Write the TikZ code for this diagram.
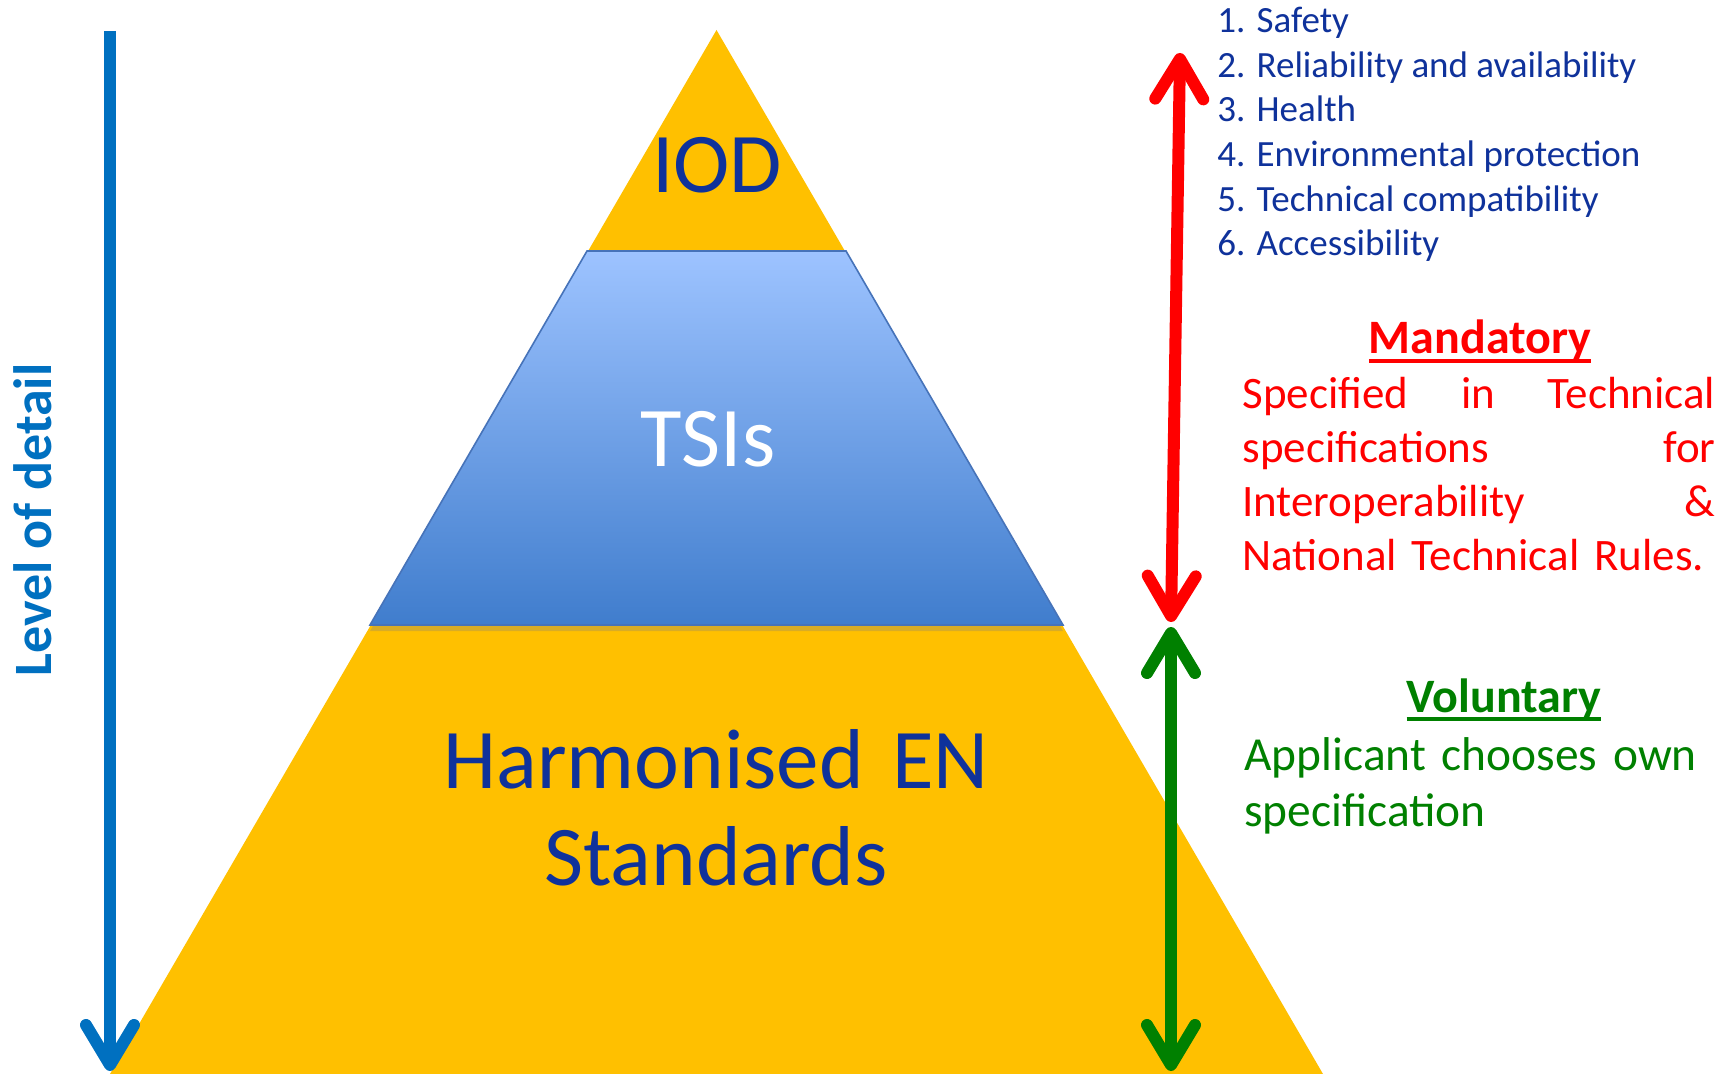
\documentclass[tikz,border=0pt]{standalone}
\usepackage{fontspec}
\setmainfont{Carlito}
\usetikzlibrary{arrows.meta,shadows}
\definecolor{gold}{HTML}{FFC000}
\definecolor{navy}{RGB}{15,50,155}
\definecolor{lodblue}{HTML}{0070C0}
\definecolor{tsitop}{RGB}{157,195,255}
\definecolor{tsibot}{RGB}{64,125,205}
\definecolor{tsiline}{RGB}{70,115,185}
\definecolor{mandred}{HTML}{FF0000}
\definecolor{volgreen}{HTML}{008000}
% underlined heading
\newcommand{\ulin}[1]{\setbox0\hbox{#1}\rlap{#1}\rule[-4.3pt]{\wd0}{1.8pt}}
\tikzset{tier/.style={font=\fontsize{42.5}{48.5}\selectfont,inner sep=0pt,anchor=base},
 goal/.style={font=\fontsize{18.5}{22}\selectfont,text=navy,inner sep=0pt,anchor=base west},
 head/.style={font=\bfseries\fontsize{24}{28}\selectfont,inner sep=0pt,anchor=base},
 para/.style={inner sep=0pt,anchor=base west,align=left}}
\tikzset{barb/.tip={Straight Barb[length=20pt,width=24pt,round]},
 arr/.style={line width=6pt,-barb},
 darr/.style={line width=6pt,barb-barb}}

\begin{document}
\begin{tikzpicture}[x=0.5pt,y=-0.5pt]
\useasboundingbox (0,0) rectangle (1734,1074);
\fill[white] (0,0) rectangle (1734,1074);
\coordinate (apex) at (716.5,30);
\coordinate (bl) at (110,1074);
\coordinate (br) at (1323,1074);
\fill[gold] (apex)--(bl)--(br)--cycle;
% middle layer
\path[top color=tsitop,bottom color=tsibot,draw=tsiline,line width=0.8pt,
 drop shadow={shadow xshift=0pt,shadow yshift=-3pt,opacity=.3}]
 (587,251)--(846,251)--(1063,625)--(370,625)--cycle;
\node[tier,text=navy] (iod) at (717,193) {IOD};
\node[tier,text=white] (tsi) at (708,467) {TSIs};
\node[tier,text=navy,text width=330pt,align=center] (en) at (716,788) {Harmonised EN\\Standards};
\node[rotate=90,text=lodblue,font=\bfseries\fontsize{27}{30}\selectfont] (lod) at (33,520) {Level of detail};
\node[goal] (g1) at (1217,33) {1. Safety};
\node[goal] (g2) at (1217,78) {2. Reliability and availability};
\node[goal] (g3) at (1217,122) {3. Health};
\node[goal] (g4) at (1217,167) {4. Environmental protection};
\node[goal] (g5) at (1217,212) {5. Technical compatibility};
\node[goal] (g6) at (1217,256) {6. Accessibility};
\node[head,text=mandred] (mand) at (1480,354) {\ulin{Mandatory}};
\node[para,text=mandred,text width=236.5pt,font=\fontsize{22.5}{27}\selectfont] (mandtxt) at (1242,409)
 {Specified\hfill in\hfill Technical\\specifications\hfill for\\Interoperability\hfill \&\\National Technical Rules.};
\node[head,text=volgreen] (vol) at (1504,712) {\ulin{Voluntary}};
\node[para,text=volgreen,text width=240pt,font=\fontsize{23.7}{28}\selectfont] (voltxt) at (1244,770)
 {Applicant chooses own\\specification};
\coordinate (lodtop) at (110,31);
\coordinate (lodbot) at (110,1071);
\coordinate (mandtop) at (1180,53);
\coordinate (mandbot) at (1171,622);
\coordinate (voltop) at (1171,627);
\coordinate (volbot) at (1171,1071);
\draw[arr,lodblue] (lodtop)--(lodbot);
\draw[darr,mandred] (mandtop)--(mandbot);
\draw[darr,volgreen] (voltop)--(volbot);
\end{tikzpicture}
\end{document}
